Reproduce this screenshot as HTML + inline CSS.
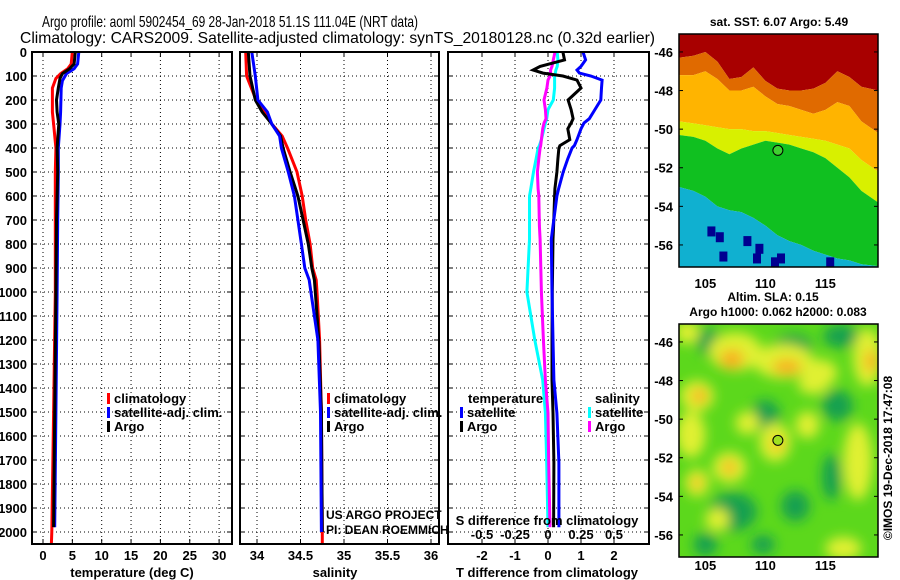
<!DOCTYPE html>
<html><head><meta charset="utf-8">
<style>
html,body{margin:0;padding:0;background:#fff;}
svg{display:block;font-family:"Liberation Sans",sans-serif;}
.t{font-weight:bold;font-size:13px;fill:#000;}
</style></head>
<body>
<svg id="fig" width="900" height="580" viewBox="0 0 900 580" xmlns="http://www.w3.org/2000/svg">
<defs>
<clipPath id="c1"><rect x="32" y="52" width="200" height="492"/></clipPath>
<clipPath id="c2"><rect x="240" y="52" width="199" height="492"/></clipPath>
<clipPath id="c3"><rect x="448" y="52" width="201" height="492"/></clipPath>
<clipPath id="cm1"><rect x="679" y="34" width="199" height="233"/></clipPath>
<clipPath id="cm2"><rect x="679" y="324" width="199" height="233"/></clipPath>
<filter id="blur" x="-20%" y="-20%" width="140%" height="140%"><feGaussianBlur stdDeviation="6"/></filter>
</defs>
<text x="42" y="27" textLength="376" lengthAdjust="spacingAndGlyphs" style="font-size:16px">Argo profile: aoml 5902454_69 28-Jan-2018 51.1S 111.04E (NRT data)</text>
<text x="20" y="43" textLength="635" lengthAdjust="spacingAndGlyphs" style="font-size:16px">Climatology: CARS2009. Satellite-adjusted climatology: synTS_20180128.nc (0.32d earlier)</text>
<g id="root"></g>
</svg>
<script>
// ---------- data ----------
const depthTicks = [0,100,200,300,400,500,600,700,800,900,1000,1100,1200,1300,1400,1500,1600,1700,1800,1900,2000];
const tempTicks = [0,5,10,15,20,25,30];
const salTicks = [34,34.5,35,35.5,36];
const salTickLabels = ["34","34.5","35","35.5","36"];
const tdTicks = [-2,-1,0,1,2];
const sdTicks = [-0.5,-0.25,0,0.25,0.5];
const sdTickLabels = ["-0.5","-0.25","0","0.25","0.5"];

const tClimDepth = [0,50,70,90,110,150,250,300,400,500,700,1000,1500,2000,2070];
const tClimVal   = [5.0,4.8,4.2,3.0,2.2,1.6,1.6,1.8,2.2,2.1,2.1,2.1,1.8,1.5,1.4];
const tSatDepth  = [0,50,70,90,120,150,250,300,400,500,700,1000,1500,1980];
const tSatVal    = [6.1,5.9,5.3,4.0,3.3,3.1,3.0,2.9,2.6,2.6,2.5,2.4,2.2,2.0];
const tArgoDepth = [0,50,70,90,110,150,200,250,300,400,500,700,1000,1500,1980];
const tArgoVal   = [5.5,5.3,4.5,3.3,2.9,2.6,2.3,2.4,2.7,2.4,2.5,2.3,2.2,2.0,1.8];

const sDepth     = [0,100,200,250,300,350,400,500,600,700,800,900,950,1000,1200,1500,2000];
const sClimVal   = [33.87,33.88,33.99,34.08,34.17,34.29,34.35,34.46,34.52,34.56,34.61,34.64,34.68,34.69,34.72,34.74,34.75];
const sSatVal    = [33.94,33.98,34.01,34.12,34.17,34.26,34.28,34.36,34.43,34.47,34.51,34.55,34.60,34.62,34.70,34.73,34.74];
const sArgoVal   = [33.90,33.92,33.98,34.06,34.17,34.27,34.30,34.38,34.47,34.53,34.59,34.63,34.66,34.67,34.71,34.74,34.75];
const sClimDepthExt = [2000,2070];
const sClimExt = [34.75,34.75];

const dDepth = [0,33,60,75,88,100,117,150,200,240,278,296,320,365,390,400,445,500,570,600,725,780,1000,1200,1367,1504,1712,1980];
const tdSat  = [1.06,1.14,1.0,0.88,0.95,1.3,1.64,1.62,1.6,1.42,1.25,1.09,1.0,0.88,0.8,0.73,0.6,0.46,0.32,0.27,0.15,0.1,0.12,0.15,0.18,0.27,0.33,0.33];
const tdArgo = [0.45,0.5,-0.24,-0.45,-0.15,0.45,0.88,1.0,0.61,0.7,0.76,0.7,0.6,0.66,0.36,0.33,0.3,0.27,0.21,0.2,0.17,0.15,0.13,0.12,0.12,0.15,0.18,0.17];
const sdArgo = [0.053,0.04,0.03,0.02,0.02,0.015,0.0,-0.008,-0.03,-0.02,-0.015,-0.03,-0.04,-0.05,-0.055,-0.06,-0.07,-0.08,-0.075,-0.07,-0.065,-0.06,-0.05,-0.035,-0.02,0.0,0.005,0.015];
const sdSat  = [0.07,0.075,0.07,0.06,0.055,0.05,0.05,0.05,0.04,0.0,-0.01,-0.02,-0.03,-0.05,-0.065,-0.075,-0.09,-0.11,-0.13,-0.14,-0.14,-0.14,-0.16,-0.1,-0.04,-0.02,-0.01,0.0];

// SST map: boundary latitudes per longitude column
const mapLons = [102.8,104,105,106,107,108,109,110,111,112,113,114,115,116,117,118,119.4];
const bRed    = [-46.3,-46.2,-46.0,-46.5,-47.4,-47.3,-46.8,-47.5,-47.9,-48.0,-48.0,-47.9,-47.6,-47.0,-47.3,-47.8,-48.0];
const bOrange = [-47.2,-47.2,-47.0,-47.4,-48.0,-48.0,-47.8,-48.3,-48.7,-48.8,-49.0,-49.2,-49.0,-48.6,-48.8,-49.6,-50.2];
const bYellow = [-49.6,-49.7,-49.8,-49.9,-50.0,-50.0,-50.1,-50.1,-50.2,-50.3,-50.4,-50.5,-50.6,-50.8,-51.0,-51.6,-52.2];
const bLime   = [-50.3,-50.4,-50.6,-51.0,-51.3,-51.0,-50.8,-50.6,-50.7,-50.8,-51.0,-51.2,-51.5,-52.0,-52.5,-53.2,-53.8];
const bGreen  = [-53.0,-53.2,-53.5,-54.0,-54.2,-54.3,-54.6,-55.0,-55.5,-55.8,-56.0,-56.3,-56.5,-56.7,-56.8,-57.0,-57.1];
const darkSpots = [[105.5,-55.3],[106.2,-55.6],[108.5,-55.8],[109.5,-56.2],[111.3,-56.7],[110.8,-56.9],[106.5,-56.6],[115.4,-56.9],[109.3,-56.7]];

// SLA map blobs [lon, lat, rx(deg), ry(deg)]
const slaYellow = [[107.5,-46.5,2.2,1.0],[111.5,-47.0,2.5,0.9],[114.5,-47.6,1.5,0.7],[118.5,-46.8,1.2,1.5],[104.3,-48.8,1.4,0.8],[103.8,-50.8,1.2,1.2],[107,-52.5,1.4,0.8],[104.3,-53.3,1.0,0.7],[110.8,-51.2,1.3,1.0],[113.5,-50.3,1.0,0.7],[117.7,-52.2,1.2,2.0],[106,-55.2,1.0,0.6],[116.5,-56.7,1.5,0.6],[108.5,-50.2,1.0,0.6],[114,-48.2,1.3,0.5],[103.5,-45.5,1.0,0.6]];
const slaOrange = [[107.2,-46.9,1.0,0.5],[111.8,-47.3,1.2,0.4],[118.8,-47.0,0.5,0.6],[104.5,-48.8,0.6,0.4],[107,-52.5,0.5,0.4],[104.3,-53.3,0.4,0.3],[111,-51.3,0.5,0.3]];
const slaTeal = [[105.3,-46.0,1.0,0.7],[112.3,-46.2,1.6,0.6],[116.3,-45.7,1.5,0.6],[116,-49.3,1.3,0.8],[110,-49.8,1.2,0.8],[107.3,-54.8,2.0,1.0],[105,-56.5,1.0,0.6],[112.5,-54.5,1.2,0.8],[109.8,-56.5,1.0,0.5],[115.5,-53,0.8,1.2]];

// ---------- scales ----------
const yD  = d => 52 + d*0.24;
const xT  = t => 43 + t*5.87;
const xS  = s => 257 + (s-34)*87;
const xTd = t => 548 + t*33;
const xSd = s => 548 + s*132;
const mx  = lon => 679 + (lon-102.8)*12;
const my  = (lat,off) => off + 34 + (-45.07-lat)*19.3;

const NS = "http://www.w3.org/2000/svg";
const root = document.getElementById('root');
function mk(tag, attrs, parent){
  const e = document.createElementNS(NS, tag);
  for (const k in attrs) e.setAttribute(k, attrs[k]);
  (parent||root).appendChild(e);
  return e;
}
function txt(x,y,s,anchor,cls,parent){
  const e = mk('text',{x:x,y:y,'text-anchor':anchor||'start','class':cls||'t'},parent);
  e.textContent = s;
  return e;
}
function stepPts(vals, depths, fx){
  const p=[];
  for(let i=0;i<vals.length;i++){
    p.push(fx(vals[i]).toFixed(1)+','+yD(depths[i]).toFixed(1));
  }
  return p.join(' ');
}

// ---------- profile panels ----------
const panels = [
  {x0:32,x1:232,clip:'c1',name:'temperature-panel'},
  {x0:240,x1:439,clip:'c2',name:'salinity-panel'},
  {x0:448,x1:649,clip:'c3',name:'difference-panel'}
];
panels.forEach((p,pi)=>{
  const g = mk('g',{});
  
  
  depthTicks.forEach(d=>{
    const l = mk('line',{x1:p.x0,x2:p.x1,y1:yD(d),y2:yD(d),stroke:'#000','stroke-width':1,'stroke-dasharray':'1,3'},g);
    
    
    mk('line',{x1:p.x0,x2:p.x0+5,y1:yD(d),y2:yD(d),stroke:'#000'},g);
    mk('line',{x1:p.x1-5,x2:p.x1,y1:yD(d),y2:yD(d),stroke:'#000'},g);
  });
  p.g = g;
});
depthTicks.forEach(d=>{
  const t = txt(27, yD(d)+5, String(d), 'end');
  
  
});
function vgrid(g, xs){
  xs.forEach(x=>{
    mk('line',{x1:x,x2:x,y1:52,y2:544,stroke:'#000','stroke-dasharray':'1,3'},g);
    mk('line',{x1:x,x2:x,y1:539,y2:544,stroke:'#000'},g);
    mk('line',{x1:x,x2:x,y1:52,y2:57,stroke:'#000'},g);
  });
}
vgrid(panels[0].g, tempTicks.map(xT));
vgrid(panels[1].g, salTicks.map(xS));
vgrid(panels[2].g, tdTicks.map(xTd));
tempTicks.forEach(t=>{
  const e = txt(xT(t), 560, String(t), 'middle');
  
  
});
salTicks.forEach((s,i)=>{
  const e = txt(xS(s), 560, salTickLabels[i], 'middle');
  
  
});
tdTicks.forEach(t=>{
  const e = txt(xTd(t), 560, String(t), 'middle');
  
  
});
sdTicks.forEach((s,i)=>{
  const e = txt(xSd(s), 539, sdTickLabels[i], 'middle');
  
  
});
let e;
e = txt(132, 577, 'temperature (deg C)', 'middle');


e = txt(335, 577, 'salinity', 'middle');


e = txt(547, 577, 'T difference from climatology', 'middle');



function series(clip, vals, depths, fx, color, name){
  const l = mk('polyline',{points:stepPts(vals,depths,fx),fill:'none',stroke:color,'stroke-width':3,'clip-path':'url(#'+clip+')','stroke-linejoin':'miter'});
  
  
}
series('c1', tClimVal, tClimDepth, xT, '#ff0000', 'temperature-climatology-line');
series('c1', tSatVal, tSatDepth, xT, '#0000ff', 'temperature-satellite-line');
series('c1', tArgoVal, tArgoDepth, xT, '#000000', 'temperature-argo-line');
series('c2', sClimExt, sClimDepthExt, xS, '#ff0000', 'salinity-climatology-deep-line');
series('c2', sClimVal, sDepth, xS, '#ff0000', 'salinity-climatology-line');
series('c2', sArgoVal, sDepth, xS, '#000000', 'salinity-argo-line');
series('c2', sSatVal, sDepth, xS, '#0000ff', 'salinity-satellite-line');
series('c3', sdSat, dDepth, xSd, '#00ffff', 's-difference-satellite-line');
series('c3', sdArgo, dDepth, xSd, '#ff00ff', 's-difference-argo-line');
series('c3', tdArgo, dDepth, xTd, '#000000', 't-difference-argo-line');
series('c3', tdSat, dDepth, xTd, '#0000ff', 't-difference-satellite-line');

e = txt(547, 525, 'S difference from climatology', 'middle');



panels.forEach(p=>{
  const r = mk('rect',{x:p.x0,y:52,width:p.x1-p.x0,height:492,fill:'none',stroke:'#000','stroke-width':2});
  
  
});

function legend(x, y, color, label, name){
  const g = mk('g',{});
  
  
  mk('rect',{x:x,y:y-10,width:3,height:11,fill:color},g);
  txt(x+7, y, label, 'start', 't', g);
}
legend(107,403,'#ff0000','climatology','legend-climatology');
legend(107,417,'#0000ff','satellite-adj. clim.','legend-satellite-adj');
legend(107,431,'#000000','Argo','legend-argo');
legend(327,403,'#ff0000','climatology','legend-sal-climatology');
legend(327,417,'#0000ff','satellite-adj. clim.','legend-sal-satellite-adj');
legend(327,431,'#000000','Argo','legend-sal-argo');
e = txt(468, 403, 'temperature');


legend(460,417,'#0000ff','satellite','legend-t-satellite');
legend(460,431,'#000000','Argo','legend-t-argo');
e = txt(595, 403, 'salinity');


legend(588,417,'#00ffff','satellite','legend-s-satellite');
legend(588,431,'#ff00ff','Argo','legend-s-argo');

e = txt(326, 519, 'US ARGO PROJECT', 'start', '');
e.setAttribute('style','font-size:12px;fill:#000');


e = txt(326, 534, 'PI: DEAN ROEMMICH', 'start', '');
e.setAttribute('style','font-size:12px;fill:#000');



// ---------- maps ----------
function band(g, upper, lower, color, off, name){
  const pts=[];
  mapLons.forEach((lon,i)=>pts.push(mx(lon)+','+my(upper?upper[i]:-44,off)));
  for(let i=mapLons.length-1;i>=0;i--) pts.push(mx(mapLons[i])+','+my(lower?lower[i]:-58,off));
  const p = mk('polygon',{points:pts.join(' '),fill:color},g);
  
  
}
const g1 = mk('g',{'clip-path':'url(#cm1)'});


band(g1, null, bRed, '#a80000', 0, 'sst-band-warm');
band(g1, bRed, bOrange, '#e06a00', 0, 'sst-band-orange');
band(g1, bOrange, bYellow, '#ffb400', 0, 'sst-band-yellow-orange');
band(g1, bYellow, bLime, '#d8f000', 0, 'sst-band-yellow');
band(g1, bLime, bGreen, '#10c020', 0, 'sst-band-green');
band(g1, bGreen, null, '#10b0d0', 0, 'sst-band-cyan');
darkSpots.forEach(s=>{
  const r = mk('rect',{x:mx(s[0])-4,y:my(s[1],0)-5,width:8,height:10,fill:'#000090'},g1);
  
  
});
const g2 = mk('g',{'clip-path':'url(#cm2)'});


mk('rect',{x:679,y:324,width:199,height:233,fill:'#5cd81c'},g2);
const g2b = mk('g',{filter:'url(#blur)'},g2);
slaTeal.forEach(b=>{
  const el = mk('ellipse',{cx:mx(b[0]),cy:my(b[1],290),rx:b[2]*12,ry:b[3]*19.3,fill:'#18a050'},g2b);
  
  
});
slaYellow.forEach(b=>{
  const el = mk('ellipse',{cx:mx(b[0]),cy:my(b[1],290),rx:b[2]*12,ry:b[3]*19.3,fill:'#e0f030'},g2b);
  
  
});
slaOrange.forEach(b=>{
  const el = mk('ellipse',{cx:mx(b[0]),cy:my(b[1],290),rx:b[2]*12,ry:b[3]*19.3,fill:'#f8b020'},g2b);
  
  
});
[[0,'#40d030','sst',288],[290,'#a0e020','sla',570]].forEach(m=>{
  const c = mk('circle',{cx:mx(111.04),cy:my(-51.1,m[0]),r:5,fill:m[1],stroke:'#000','stroke-width':1});
  
  
  const r = mk('rect',{x:679,y:34+m[0],width:199,height:233,fill:'none',stroke:'#000','stroke-width':1.5});
  
  
  [-46,-48,-50,-52,-54,-56].forEach(lat=>{
    const t = txt(673, my(lat,m[0])+5, String(lat), 'end');
    
    
    mk('line',{x1:679,x2:683,y1:my(lat,m[0]),y2:my(lat,m[0]),stroke:'#000'});
    mk('line',{x1:874,x2:878,y1:my(lat,m[0]),y2:my(lat,m[0]),stroke:'#000'});
  });
  [105,110,115].forEach(lon=>{
    const t = txt(mx(lon), m[3], String(lon), 'middle');
    
    
  });
});
e = txt(779, 26, 'sat. SST: 6.07 Argo: 5.49', 'middle');
e.setAttribute('style','font-size:12px');


e = txt(773, 301, 'Altim. SLA: 0.15', 'middle');
e.setAttribute('style','font-size:12px');


e = txt(778, 316, 'Argo h1000: 0.062 h2000: 0.083', 'middle');
e.setAttribute('style','font-size:12px');


e = txt(0, 0, '©IMOS 19-Dec-2018 17:47:08', 'middle', '');
e.setAttribute('transform','translate(892,458) rotate(-90)');
e.setAttribute('style','font-size:12px;fill:#000');


</script>
</body></html>
